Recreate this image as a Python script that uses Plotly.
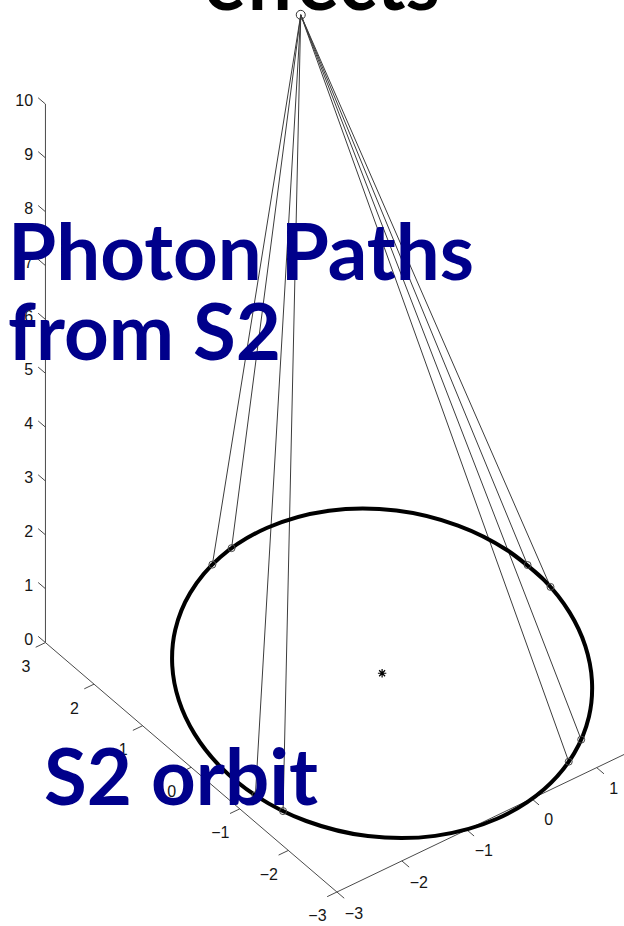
import numpy as np
import plotly.graph_objects as go

# ---------------- data (3-D coordinates) ----------------
# S2 orbit, points around the ellipse (x, y), drawn in the z = 0 plane
ORBIT_X = [2.644, 2.627, 2.424, 1.989, 1.322, 0.515, -0.291, -0.997, -1.570, -2.015,
           -2.350, -2.582, -2.704, -2.687, -2.484, -2.049, -1.382, -0.575, 0.231, 0.937,
           1.510, 1.955, 2.290, 2.522]
ORBIT_Y = [0.274, 1.007, 1.758, 2.446, 2.940, 3.133, 3.025, 2.697, 2.239, 1.706,
           1.122, 0.490, -0.194, -0.927, -1.678, -2.366, -2.860, -3.053, -2.945, -2.617,
           -2.159, -1.626, -1.042, -0.410]
ORBIT_Z = [0.0] * len(ORBIT_X)

# positions of S2 where the photons were emitted
EMIT_X = [-0.452, -0.072, 2.655, 2.629, 1.170, 0.793, -2.598, -2.690]
EMIT_Y = [2.970, 3.082, 0.635, 0.128, -2.454, -2.702, -1.354, -0.907]
EMIT_Z = [0.0] * len(EMIT_X)

# observer position (photons converge here)
OBS_X, OBS_Y, OBS_Z = 0.55, 2.49, 10.0

# central mass (Sgr A*)
STAR_X, STAR_Y, STAR_Z = -0.03, 0.04, 0.0

# axes
X_TICKS = [-3, -2, -1, 0, 1, 2, 3]
Y_TICKS = [-3, -2, -1, 0, 1, 2, 3]
Z_TICKS = [0, 1, 2, 3, 4, 5, 6, 7, 8, 9, 10]
X_LIM = [-3, 3]
Y_LIM = [-3, 3]
Z_LIM = [0, 10]

# ---------------- view (orthographic 3-D projection) ----------------
W, H = 624, 926
AZ = np.radians(233.2)
EL = np.radians(39.8)
SXY, SZ = 81.1, 70.1          # pixels per data unit
ORIGIN = (386.0, 674.0)       # where (0,0,0) lands


def project(x, y, z):
    x = np.asarray(x, float); y = np.asarray(y, float); z = np.asarray(z, float)
    u = ORIGIN[0] + SXY * x * (-np.sin(AZ)) + SXY * y * np.cos(AZ)
    up = (SXY * x * (-np.sin(EL) * np.cos(AZ)) + SXY * y * (-np.sin(EL) * np.sin(AZ))
          + SZ * z * np.cos(EL))
    v = ORIGIN[1] - up
    return u, v


fig = go.Figure()

# ---- axis lines and ticks ----
ax_u, ax_v = [], []


def seg(p0, p1):
    u, v = project([p0[0], p1[0]], [p0[1], p1[1]], [p0[2], p1[2]])
    ax_u.extend(list(u) + [None]); ax_v.extend(list(v) + [None])


seg((X_LIM[0], Y_LIM[1], Z_LIM[0]), (X_LIM[0], Y_LIM[1], Z_LIM[1]))   # z axis
seg((X_LIM[0], Y_LIM[0], Z_LIM[0]), (X_LIM[0], Y_LIM[1], Z_LIM[0]))   # y axis
seg((X_LIM[0], Y_LIM[0], Z_LIM[0]), (X_LIM[1], Y_LIM[0], Z_LIM[0]))   # x axis
TL = 0.15
for t in Z_TICKS:
    seg((X_LIM[0], Y_LIM[1], t), (X_LIM[0], Y_LIM[1] + TL, t))
for t in Y_TICKS:
    seg((X_LIM[0], t, Z_LIM[0]), (X_LIM[0] - TL, t, Z_LIM[0]))
for t in X_TICKS:
    seg((t, Y_LIM[0], Z_LIM[0]), (t, Y_LIM[0] - TL, Z_LIM[0]))

fig.add_trace(go.Scatter(x=ax_u, y=ax_v, mode="lines",
                         line=dict(color="#4a4a4a", width=1), hoverinfo="skip"))


def lab(v):
    return str(v).replace("-", "\u2212")


# tick labels
zu, zv = project([X_LIM[0] - 0.10] * len(Z_TICKS), [Y_LIM[1] + 0.12] * len(Z_TICKS), Z_TICKS)
yu, yv = project([X_LIM[0] - 0.30] * len(Y_TICKS), Y_TICKS, [Z_LIM[0] - 0.3] * len(Y_TICKS))
xu, xv = project(X_TICKS, [Y_LIM[0] - 0.35] * len(X_TICKS), [Z_LIM[0] - 0.15] * len(X_TICKS))
tick_font = dict(family="Liberation Sans", size=16, color="#151515")
fig.add_trace(go.Scatter(x=zu, y=zv, mode="text", text=[lab(t) for t in Z_TICKS],
                         textposition="middle left", textfont=tick_font, hoverinfo="skip"))
fig.add_trace(go.Scatter(x=yu, y=yv, mode="text", text=[lab(t) for t in Y_TICKS],
                         textposition="middle center", textfont=tick_font, hoverinfo="skip"))
fig.add_trace(go.Scatter(x=xu, y=xv, mode="text", text=[lab(t) for t in X_TICKS],
                         textposition="middle center", textfont=tick_font, hoverinfo="skip"))

# ---- photon paths ----
pu, pv = [], []
for ex, ey, ez in zip(EMIT_X, EMIT_Y, EMIT_Z):
    u, v = project([ex, OBS_X], [ey, OBS_Y], [ez, OBS_Z])
    pu.extend(list(u) + [None]); pv.extend(list(v) + [None])
fig.add_trace(go.Scatter(x=pu, y=pv, mode="lines",
                         line=dict(color="#3c3c3c", width=1), hoverinfo="skip"))

# ---- orbit ----
ou, ov = project(ORBIT_X + ORBIT_X[:2], ORBIT_Y + ORBIT_Y[:2], ORBIT_Z + ORBIT_Z[:2])
fig.add_trace(go.Scatter(x=ou, y=ov, mode="lines",
                         line=dict(color="black", width=4, shape="spline", smoothing=1.0),
                         hoverinfo="skip"))

# ---- emission markers ----
eu, ev = project(EMIT_X, EMIT_Y, EMIT_Z)
fig.add_trace(go.Scatter(x=eu, y=ev, mode="markers",
                         marker=dict(symbol="circle-open", size=7, color="#444444",
                                     line=dict(width=1)), hoverinfo="skip"))
# observer
obu, obv = project([OBS_X], [OBS_Y], [OBS_Z])
fig.add_trace(go.Scatter(x=obu, y=obv, mode="markers",
                         marker=dict(symbol="circle-open", size=9, color="#333333",
                                     line=dict(width=1)), hoverinfo="skip"))
# star
su, sv = project([STAR_X], [STAR_Y], [STAR_Z])
fig.add_trace(go.Scatter(x=su, y=sv, mode="markers",
                         marker=dict(symbol="asterisk-open", size=7, color="black",
                                     line=dict(width=1.2, color="black")), hoverinfo="skip"))

# ---- overlaid slide text ----
BIG = 78
blue = "#00008B"


def text(t, x, baseline, color, xanchor="left"):
    fig.add_annotation(x=x / W, y=1 - (baseline - 0.39 * BIG) / H, xref="paper", yref="paper",
                       text=t, showarrow=False, xanchor=xanchor, yanchor="middle",
                       font=dict(family="Lato", size=BIG, color=color, weight="bold"))


text("effects", 322, 10, "black", xanchor="center")
text("Photon Paths", 6, 280, blue)
text("from S2", 6, 360, blue)
text("S2 orbit", 42, 805, blue)

fig.update_layout(
    width=W, height=H, margin=dict(l=0, r=0, t=0, b=0),
    paper_bgcolor="white", plot_bgcolor="white", showlegend=False,
    xaxis=dict(range=[0, W], visible=False, fixedrange=True),
    yaxis=dict(range=[H, 0], visible=False, fixedrange=True),
)

fig.write_html("out.html", config={"displayModeBar": False},
               post_script="document.body.style.margin='0px';")
